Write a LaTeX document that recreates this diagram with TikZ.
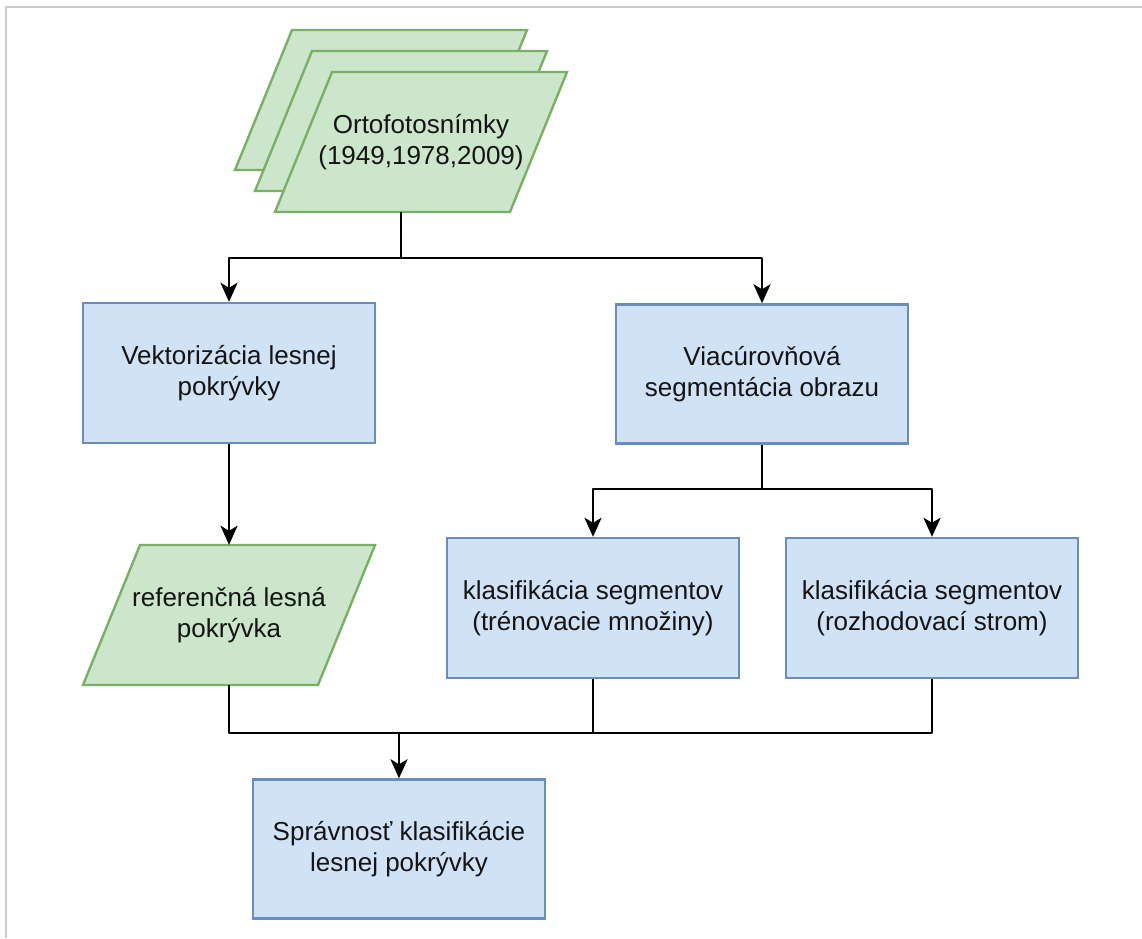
\documentclass[tikz,border=0pt]{standalone}
\usepackage{fontspec}
\setmainfont{Liberation Sans}
\usetikzlibrary{arrows.meta}
\definecolor{bfill}{HTML}{D0E2F6}
\definecolor{bdraw}{HTML}{6A8DBF}
\definecolor{gfill}{HTML}{CCE6CC}
\definecolor{gdraw}{HTML}{7AAF66}
\definecolor{framec}{HTML}{CCCCCC}
\definecolor{txt}{HTML}{141414}
\newcommand\myparallel[2]{%
  \draw[pshape] (#1-89,#2-70) -- (#1+146,#2-70) -- (#1+89,#2+70) -- (#1-146,#2+70) -- cycle;}
\begin{document}
\begin{tikzpicture}[x=1pt,y=-1pt,
  lbl/.style={font=\fontsize{26}{31}\selectfont, text=txt, align=center, inner sep=0pt},
  box/.style={lbl, draw=bdraw, fill=bfill, line width=2.4pt, minimum width=292pt, minimum height=140pt},
  holder/.style={inner sep=0pt, minimum width=292pt, minimum height=140pt},
  pshape/.style={draw=gdraw, fill=gfill, line width=2.4pt, line join=miter},
  conn/.style={line width=2.7pt, draw=black, line join=round},
  arr/.style={conn, -{Stealth[length=19pt, width=17pt, inset=5pt]}}
]
\useasboundingbox (0,0) rectangle (1142,938);
\draw[framec, line width=2pt] (6,938) -- (6,7) -- (1143,7);

% stack of orthophotos
\myparallel{381}{100}
\myparallel{401}{121}
\myparallel{421}{142}
\node[holder, minimum width=332pt, minimum height=182pt] (ortho) at (401,121) {};
\node[lbl] (orthotext) at (421,142) {Ortofotosnímky\\(1949,1978,2009)};

% reference forest cover
\myparallel{229}{615}
\node[holder, lbl] (ref) at (229,615) {referenčná lesná\\pokrývka};

% boxes
\node[box] (vek) at (229,373) {Vektorizácia lesnej\\pokrývky};
\node[box, minimum height=139pt] (via) at (762,374) {Viacúrovňová\\segmentácia obrazu};
\node[box] (k1) at (593,608) {klasifikácia segmentov\\(trénovacie množiny)};
\node[box] (k2) at (932,608) {klasifikácia segmentov\\(rozhodovací strom)};
\node[box, minimum height=139pt] (spr) at (399,849) {Správnosť klasifikácie\\lesnej pokrývky};

% junctions
\coordinate (j1) at (401,258);
\coordinate (j2) at (762,489);
\coordinate (j3) at (399,733);

% connectors
\draw[conn] (ortho.south) -- (j1);
\draw[arr] (j1) -| (vek.north);
\draw[arr] (j1) -| (via.north);
\draw[arr] (vek.south) -- (ref.north);
\draw[conn] (via.south) -- (j2);
\draw[arr] (j2) -| (k1.north);
\draw[arr] (j2) -| (k2.north);
\draw[conn] (ref.south) |- (k2.south |- j3) -- (k2.south);
\draw[conn] (k1.south) -- (k1.south |- j3);
\draw[arr] (j3) -- (spr.north);
\end{tikzpicture}
\end{document}
